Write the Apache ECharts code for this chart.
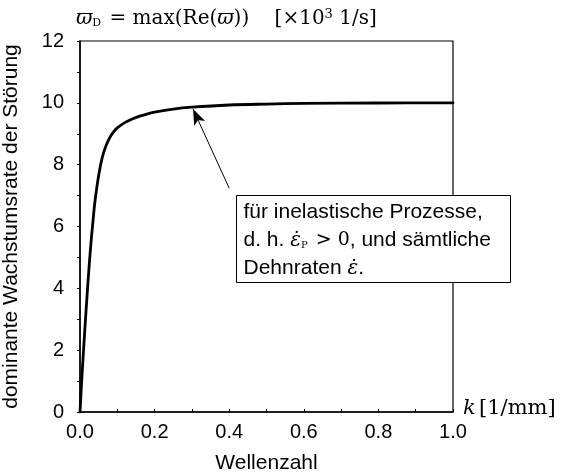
<!DOCTYPE html>
<html>
<head>
<meta charset="utf-8">
<script src="https://cdn.jsdelivr.net/npm/echarts@6/dist/echarts.min.js"></script>
<style>
  html, body { margin: 0; padding: 0; background: #fff; }
  #main { width: 563px; height: 473px; }
</style>
</head>
<body>
<div id="main"></div>
<script>
// Wellenzahl k [1/mm] und dominante Wachstumsrate [x10^3 1/s]
var kValues = [0, 0.005, 0.01, 0.015, 0.02, 0.025, 0.03, 0.035, 0.04, 0.05, 0.06, 0.07,
  0.08, 0.09, 0.1, 0.12, 0.14, 0.16, 0.18, 0.2, 0.25, 0.3, 0.4, 0.5, 0.6, 0.8, 1.0];
var rateValues = [0, 1.1, 2.1, 3.05, 3.95, 4.8, 5.55, 6.2, 6.8, 7.65, 8.25, 8.62,
  8.88, 9.06, 9.19, 9.36, 9.48, 9.57, 9.64, 9.7, 9.8, 9.86, 9.93, 9.96, 9.98, 9.995, 10.0];
var xTicks = [0, 0.2, 0.4, 0.6, 0.8, 1.0];
var yTicks = [0, 2, 4, 6, 8, 10, 12];
// Pfeil der Anmerkung (Datenkoordinaten)
var arrowFrom = [0.40, 7.24];
var arrowTo = [0.303, 9.8];

var serif = '"DejaVu Serif", "Liberation Serif", serif';
var sans = '"Liberation Sans", Arial, sans-serif';

var curve = kValues.map(function (k, i) { return [k, rateValues[i]]; });

var chart = echarts.init(document.getElementById('main'));

var option = {
  animation: false,
  backgroundColor: '#fff',
  grid: {
    left: 80, right: 110, top: 41, bottom: 61,
    outerBoundsMode: 'none',
    containLabel: false,
    show: true, borderColor: '#000', borderWidth: 1.2
  },
  xAxis: {
    type: 'value',
    min: xTicks[0], max: xTicks[xTicks.length - 1], interval: 0.2,
    name: 'Wellenzahl',
    nameLocation: 'middle',
    nameGap: 41,
    nameTextStyle: { fontFamily: sans, fontSize: 21, color: '#000' },
    axisLine: { lineStyle: { color: '#000', width: 1.5 } },
    axisTick: { inside: true, length: 3, lineStyle: { color: '#000' } },
    minorTick: { show: true, splitNumber: 2, length: 3, lineStyle: { color: '#000' } },
    splitLine: { show: false },
    axisLabel: {
      margin: 10, fontFamily: sans, fontSize: 20, color: '#000',
      formatter: function (v) { return v.toFixed(1); }
    }
  },
  yAxis: {
    type: 'value',
    min: yTicks[0], max: yTicks[yTicks.length - 1], interval: 2,
    name: 'dominante Wachstumsrate der Störung',
    nameLocation: 'middle',
    nameGap: 58,
    nameTextStyle: { fontFamily: sans, fontSize: 21, color: '#000' },
    axisLine: { lineStyle: { color: '#000', width: 1.5 } },
    axisTick: { inside: false, length: 3, lineStyle: { color: '#000' } },
    minorTick: { show: true, splitNumber: 2, length: 3, lineStyle: { color: '#000' } },
    splitLine: { show: false },
    axisLabel: { margin: 16, fontFamily: sans, fontSize: 20, color: '#000' }
  },
  series: [{
    type: 'line',
    data: curve,
    smooth: 0.35,
    symbol: 'none',
    lineStyle: { color: '#000', width: 2.8, join: 'round', cap: 'round' },
    markLine: {
      silent: true,
      symbol: ['none', 'arrow'],
      symbolSize: [9, 16],
      label: { show: false },
      lineStyle: { color: '#000', width: 1, type: 'solid' },
      data: [[{ coord: arrowFrom }, { coord: arrowTo }]]
    }
  }],
  graphic: [
    {
      type: 'text', left: 76, top: 8,
      style: {
        text: '{i|ϖ}{s|D}{n| = max(Re(}{i|ϖ}{n|))    [×10}{sup|3}{n| 1/s]}',
        rich: {
          i: { fontFamily: serif, fontStyle: 'italic', fontSize: 20, fill: '#000' },
          n: { fontFamily: serif, fontSize: 20, fill: '#000' },
          s: { fontFamily: serif, fontSize: 11, fill: '#000', padding: [9, 2, 0, 0] },
          sup: { fontFamily: serif, fontSize: 13, fill: '#000', padding: [0, 0, 9, 0] }
        }
      }
    },
    {
      type: 'text', left: 463, top: 398,
      style: {
        text: '{i|k} {n|[1/mm]}',
        rich: {
          i: { fontFamily: serif, fontStyle: 'italic', fontSize: 21, fill: '#000' },
          n: { fontFamily: serif, fontSize: 21, fill: '#000' }
        }
      }
    },
    {
      type: 'group', left: 236, top: 195,
      children: [
        {
          type: 'rect',
          shape: { x: 0, y: 0, width: 274, height: 87 },
          style: { fill: '#fff', stroke: '#000', lineWidth: 1 }
        },
        {
          type: 'text', x: 7, y: 3,
          style: {
            text: '{n|für inelastische Prozesse,}\n' +
                  '{n|d. h. }{i|ε̇}{s|P}{m| > 0}{n|, und sämtliche}\n' +
                  '{n|Dehnraten }{i|ε̇}{n|.}',
            lineHeight: 28,
            rich: {
              n: { fontFamily: sans, fontSize: 21, fill: '#000', lineHeight: 28 },
              i: { fontFamily: serif, fontStyle: 'italic', fontSize: 20, fill: '#000', lineHeight: 28 },
              m: { fontFamily: serif, fontSize: 19, fill: '#000', lineHeight: 28 },
              s: { fontFamily: serif, fontSize: 10, fill: '#000', padding: [9, 2, 0, 0], lineHeight: 28 }
            }
          }
        }
      ]
    }
  ]
};

chart.setOption(option);
</script>
</body>
</html>
